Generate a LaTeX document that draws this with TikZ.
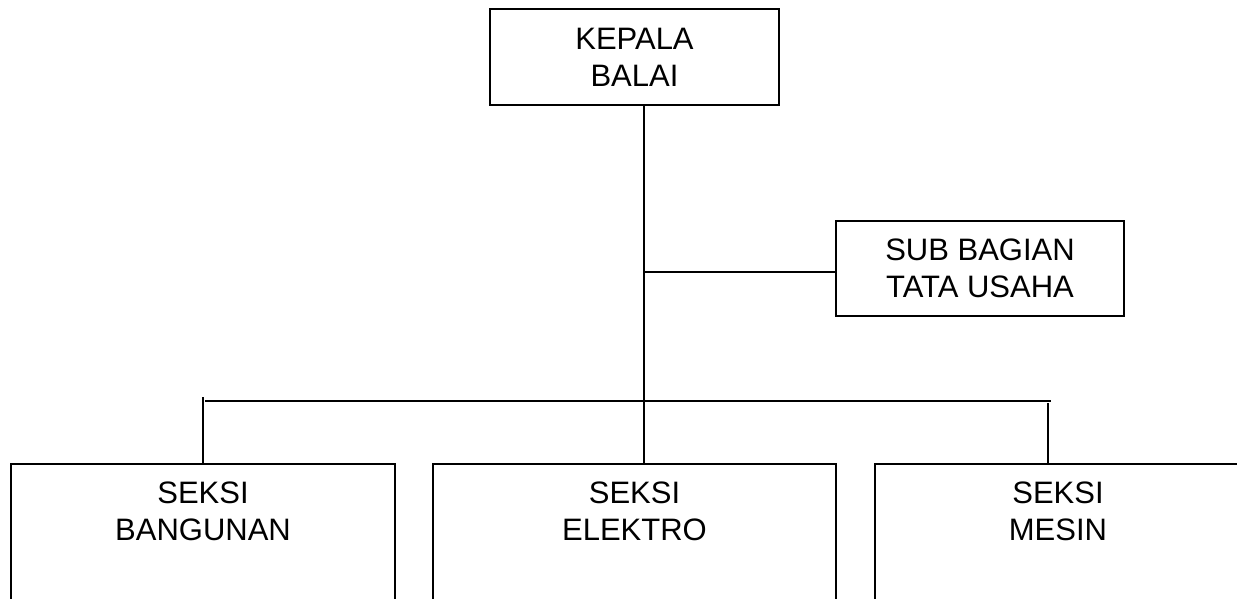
\documentclass[tikz,border=0pt]{standalone}
\usepackage{fontspec}
\setmainfont{Liberation Sans}
\begin{document}
\begin{tikzpicture}[x=1pt,y=1pt,
  box/.style={draw=black, line width=1.6pt, rectangle, inner sep=0pt, align=center,
              font=\fontsize{31}{37}\selectfont},
  openbox/.style={draw=black, line width=1.6pt, rectangle, inner sep=0pt},
  boxtext/.style={anchor=north, inner sep=0pt, align=center, font=\fontsize{31}{37}\selectfont},
  conn/.style={line width=1.6pt, black}]
\clip (0,0) rectangle (1237,598);
\fill[white] (0,0) rectangle (1237,598);
% top boxes
\node[box, minimum width=289pt, minimum height=96pt] (kepala) at (634.5,541) {KEPALA\\BALAI};
\node[box, minimum width=288pt, minimum height=95pt] (sub) at (980,329.5) {SUB BAGIAN\\TATA USAHA};
% bottom boxes (run past the lower edge of the picture)
\node[openbox, minimum width=384pt, minimum height=176pt] (b1) at (203,46) {};
\node[openbox, minimum width=403pt, minimum height=176pt] (b2) at (634.5,46) {};
\node[openbox, minimum width=366pt, minimum height=176pt] (b3) at (1058,46) {};
\node[boxtext] (t1) at (203,116) {SEKSI\\BANGUNAN};
\node[boxtext] (t2) at (634.5,116) {SEKSI\\ELEKTRO};
\node[boxtext] (t3) at (1058,116) {SEKSI\\MESIN};
% connector points
\coordinate (j1) at (644,326);
\coordinate (busL) at (205,197);
\coordinate (busR) at (1051,197);
\coordinate (d1) at (203,201);
\coordinate (d3) at (1048,195);
% connectors
\draw[conn] (kepala.south -| j1) -- (b2.north -| j1);
\draw[conn] (j1) -- (sub.west |- j1);
\draw[conn] (busL) -- (busR);
\draw[conn] (d1) -- (b1.north -| d1);
\draw[conn] (d3) -- (b3.north -| d3);
\end{tikzpicture}
\end{document}
